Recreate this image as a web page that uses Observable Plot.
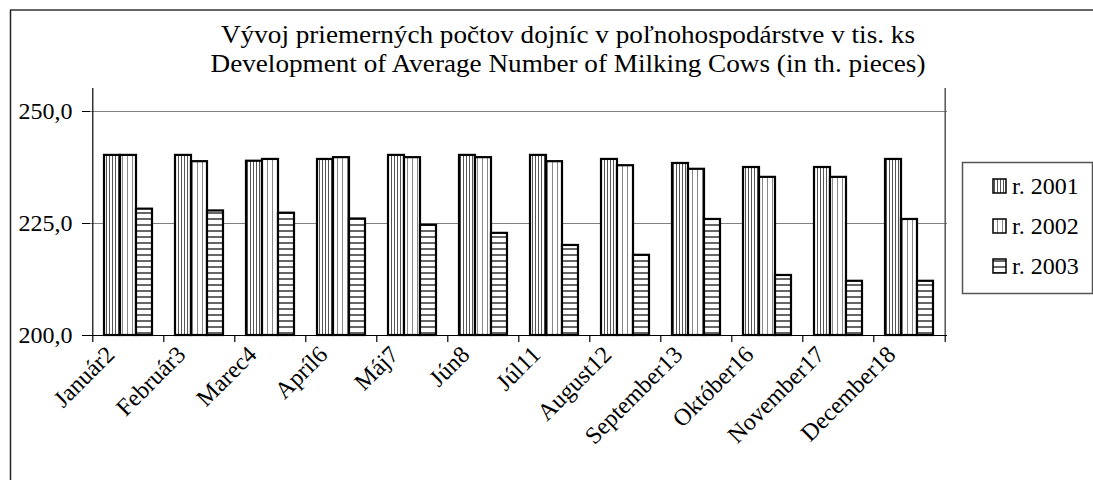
<!DOCTYPE html>
<html><head><meta charset="utf-8">
<script src="https://cdn.jsdelivr.net/npm/d3@7"></script>
<script src="https://cdn.jsdelivr.net/npm/@observablehq/plot@0.6"></script>
<style>
html,body{margin:0;padding:0;background:#fff;}
#chart svg{display:block;}
</style>
</head><body><div id="chart"></div>
<script>
// ---- data ----
const titleLines = [
  "Vývoj priemerných počtov dojníc v poľnohospodárstve v tis. ks",
  "Development of Average Number of Milking Cows (in th. pieces)"
];
const months = ["Január2","Február3","Marec4","Apríl6","Máj7","Jún8","Júl11","August12","September13","Október16","November17","December18"];
const years = ["r. 2001","r. 2002","r. 2003"];
const values2001 = [240.2, 240.2, 238.9, 239.3, 240.2, 240.2, 240.2, 239.3, 238.4, 237.5, 237.5, 239.3];
const values2002 = [240.2, 238.8, 239.3, 239.7, 239.7, 239.7, 238.8, 237.9, 237.1, 235.3, 235.3, 225.9];
const values2003 = [228.2, 227.8, 227.3, 226.0, 224.6, 222.8, 220.1, 217.9, 225.9, 213.4, 212.1, 212.1];
const yTicks = [200, 225, 250];

// ---- layout ----
const W = 1093, H = 480;
const mL = 90, mR = 146, mT = 111, mB = 145;
const pad = 0.328;
const step = (W - mL - mR) / months.length;
const barW = step * (1 - pad) / years.length;
const font = "Liberation Serif, Times New Roman, serif";

const series = [values2001, values2002, values2003];
const rows = years.map((yr, k) => months.map((m, i) => ({month: m, year: yr, value: series[k][i]})));
const fmt = d => d.toFixed(1).replace(".", ",");
const yMin = yTicks[0], yMax = yTicks[yTicks.length - 1];

const plot = Plot.plot({
  width: W, height: H,
  marginLeft: mL, marginRight: mR, marginTop: mT, marginBottom: mB,
  style: {fontFamily: font, fontSize: "24px", color: "black", background: "white"},
  x: {domain: months, paddingInner: pad, paddingOuter: pad / 2},
  y: {domain: [yMin, yMax]},
  marks: [
    Plot.ruleY(yTicks.slice(1), {stroke: "#808080", strokeWidth: 1.2}),
    ...rows.map((data, k) => Plot.barY(data, {
      x: "month", y1: yMin, y2: "value",
      fill: `url(#pat${k})`, stroke: "black", strokeWidth: 2.2,
      insetLeft: k * barW, insetRight: (years.length - 1 - k) * barW
    })),
    Plot.ruleY([yMin], {stroke: "black", strokeWidth: 1.2}),
    Plot.ruleX(months, {x: d => d, y1: yMin, y2: yMin, insetBottom: -7, dx: -step / 2, stroke: "black", strokeWidth: 1.2}),
    Plot.ruleX([months[months.length - 1]], {x: d => d, y1: yMin, y2: yMin, insetBottom: -7, dx: step / 2, stroke: "black", strokeWidth: 1.2}),
    Plot.ruleX([months[0]], {x: d => d, y1: yMax, y2: yMin, insetTop: -23, dx: -step / 2, stroke: "black", strokeWidth: 1.2}),
    Plot.ruleX([months[months.length - 1]], {x: d => d, y1: yMax, y2: yMin, insetTop: -23, dx: step / 2, stroke: "#555", strokeWidth: 1.5}),
    Plot.axisY(yTicks, {tickFormat: fmt, tickSize: 8, tickPadding: 10, fontSize: 24, label: null, stroke: "black"}),
    Plot.axisX({tickSize: 0, tickRotate: -45, tickPadding: 15, fontSize: 24, label: null, dx: -18})
  ]
});

document.getElementById("chart").appendChild(plot);

// ---- patterns, title, legend, outer frame ----
const svg = d3.select(plot);
const defs = svg.insert("defs", ":first-child");
const patSpecs = [
  {id: "pat0", w: 3, h: 10, vertical: true, color: "#555", sw: 1},
  {id: "pat1", w: 5, h: 10, vertical: true, color: "#888", sw: 1},
  {id: "pat2", w: 10, h: 6, vertical: false, color: "#000", sw: 1.2}
];
for (const p of patSpecs) {
  const pat = defs.append("pattern").attr("id", p.id).attr("patternUnits", "userSpaceOnUse")
    .attr("width", p.w).attr("height", p.h);
  pat.append("rect").attr("width", p.w).attr("height", p.h).attr("fill", "white");
  if (p.vertical) pat.append("line").attr("x1", p.w / 2).attr("x2", p.w / 2).attr("y1", 0).attr("y2", p.h)
    .attr("stroke", p.color).attr("stroke-width", p.sw);
  else pat.append("line").attr("y1", p.h / 2).attr("y2", p.h / 2).attr("x1", 0).attr("x2", p.w)
    .attr("stroke", p.color).attr("stroke-width", p.sw);
}

// outer chart frame (top & left edges)
svg.append("line").attr("x1", 10).attr("x2", W).attr("y1", 10).attr("y2", 10).attr("stroke", "#333").attr("stroke-width", 1.5);
svg.append("line").attr("x1", 10.5).attr("x2", 10.5).attr("y1", 10).attr("y2", H).attr("stroke", "#222").attr("stroke-width", 1.5);

// title
const titleG = svg.append("g").attr("font-family", font).attr("font-size", 25).attr("fill", "black").attr("text-anchor", "middle");
const titleY = [43, 72], titleLen = [694, 715];
titleLines.forEach((t, i) => {
  titleG.append("text").attr("x", 568).attr("y", titleY[i]).attr("textLength", titleLen[i])
    .attr("lengthAdjust", "spacingAndGlyphs").text(t);
});

// legend
const lg = svg.append("g").attr("font-family", font).attr("font-size", 24).attr("text-anchor", "start");
lg.append("rect").attr("x", 962.5).attr("y", 162.5).attr("width", 130).attr("height", 131)
  .attr("fill", "white").attr("stroke", "#555").attr("stroke-width", 1.5);
years.forEach((yr, k) => {
  const cy = 186 + k * 40;
  lg.append("rect").attr("x", 993).attr("y", cy - 7).attr("width", 13).attr("height", 14)
    .attr("fill", `url(#pat${k})`).attr("stroke", "black").attr("stroke-width", 1.5);
  lg.append("text").attr("x", 1012).attr("y", cy + 8).attr("text-anchor", "start").text(yr);
});
</script>
</body></html>
